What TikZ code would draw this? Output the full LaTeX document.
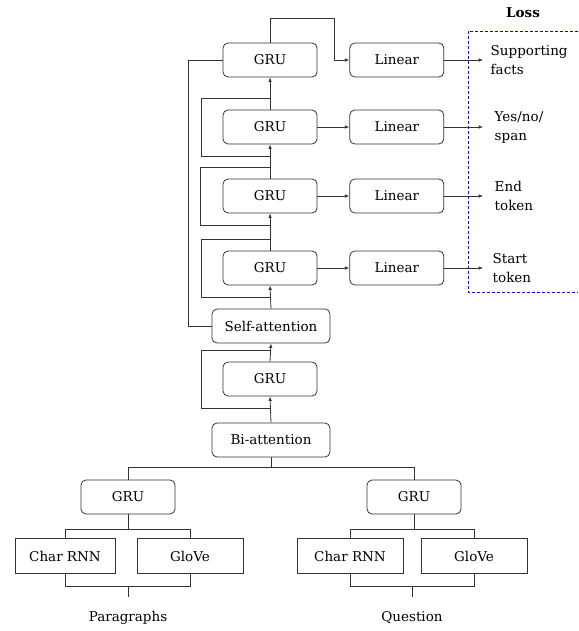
\documentclass[tikz,border=0pt]{standalone}
\usepackage{fontspec}
\setmainfont{DejaVu Serif}
\usetikzlibrary{arrows.meta,positioning}

\begin{document}
\begin{tikzpicture}[x=1pt, y=-1pt, >={Latex[length=4.5pt,width=3.5pt]},
  every node/.style={font=\fontsize{13.5}{19}\selectfont},
  line/.style={draw=black!80, line width=0.8pt},
  rnd/.style={line, rounded corners=5pt, minimum width=94pt, minimum height=34pt},
  wide/.style={rnd, minimum width=118pt},
  emb/.style={line, minimum width=106pt, minimum height=35pt},
  outlbl/.style={align=left}]
\useasboundingbox (0,0) rectangle (578,631);
% main column
\node[rnd]  (gruA)    at (270,60)  {GRU};
\node[rnd]  (gruB)    at (270,127) {GRU};
\node[rnd]  (gruC)    at (270,196) {GRU};
\node[rnd]  (gruD)    at (270,268) {GRU};
\node[wide] (selfatt) at (271,326) {Self-attention};
\node[rnd]  (gruE)    at (270,379) {GRU};
\node[wide] (biatt)   at (271,440) {Bi-attention};
% encoders
\node[rnd] (gruP) at (128,497) {GRU};
\node[rnd] (gruQ) at (414,497) {GRU};
\node[emb, minimum width=100pt] (charP)  at (65,556)  {Char RNN};
\node[emb] (gloveP) at (190,556) {GloVe};
\node[emb] (charQ)  at (350,556) {Char RNN};
\node[emb] (gloveQ) at (474,556) {GloVe};
\node (para)  at (128,618) {Paragraphs};
\node (quest) at (412,618) {Question};
% prediction heads
\node[rnd, right=32pt of gruA] (linA) {Linear};
\node[rnd, right=32pt of gruB] (linB) {Linear};
\node[rnd, right=32pt of gruC] (linC) {Linear};
\node[rnd, right=32pt of gruD] (linD) {Linear};
\node[outlbl, right=43pt of linA] (supp)  {Supporting\\facts};
\node[outlbl, right=47pt of linB] (yesno) {Yes/no/\\span};
\node[outlbl, right=47pt of linC] (endt)  {End\\token};
\node[outlbl, right=45pt of linD] (start) {Start\\token};
\node[font=\fontsize{13.5}{19}\selectfont\bfseries] (loss) at (523,13) {Loss};
\draw[blue, dashed, line width=0.8pt, dash pattern=on 3pt off 2pt] (578,31) -| (468,292) -- (578,292);
% trunk
\draw[line,->] (biatt.north) -- (gruE.south);
\draw[line,->] (gruE.north) -- (selfatt.south);
\draw[line,->] (selfatt.north) -- (gruD.south);
\draw[line,->] (gruD.north) -- (gruC.south);
\draw[line,->] (gruC.north) -- (gruB.south);
\draw[line,->] (gruB.north) -- (gruA.south);
% skip connections round the GRUs
\draw[line] ([yshift=-12pt]gruE.south) -- ++(-69,0) |- ([yshift=11pt]gruE.north);
\draw[line] ([yshift=-12pt]gruD.south) -- ++(-69,0) |- ([yshift=11pt]gruD.north);
\draw[line] ([yshift=-12pt]gruC.south) -- ++(-70,0) |- ([yshift=11pt]gruC.north);
\draw[line] ([yshift=-12pt]gruB.south) -- ++(-69,0) |- ([yshift=11pt]gruB.north);
\draw[line] (selfatt.west) -- ++(-23,0) |- (gruA.west);
% heads
\draw[line,->] (gruA.north) -- ++(0,-24) -| ([xshift=-15pt]linA.west) -- (linA.west);
\draw[line,->] (gruB) -- (linB);
\draw[line,->] (gruC) -- (linC);
\draw[line,->] (gruD) -- (linD);
\draw[line,->] (linA) -- ([xshift=-4pt]supp.west);
\draw[line,->] (linB) -- ([xshift=-8pt]yesno.west);
\draw[line,->] (linC) -- ([xshift=-8pt]endt.west);
\draw[line,->] (linD) -- ([xshift=-6pt]start.west);
% inputs
\draw[line] (biatt.south) -- ++(0,10) -| (gruP.north);
\draw[line] (biatt.south) ++(0,10) -| (gruQ.north);
\draw[line] (gruP.south) -- ++(0,15) -| (charP.north);
\draw[line] (gruP.south) ++(0,15) -| (gloveP.north);
\draw[line] (gruQ.south) -- ++(0,15) -| (charQ.north);
\draw[line] (gruQ.south) ++(0,15) -| (gloveQ.north);
\draw[line] (charP.south) -- ++(0,12) -| (gloveP.south);
\draw[line] (charQ.south) -- ++(0,12) -| (gloveQ.south);
\draw[line] (gruP |- charP.south) ++(0,12) -- ++(0,11);
\draw[line] (quest |- charQ.south) ++(0,12) -- ++(0,11);
\end{tikzpicture}
\end{document}
